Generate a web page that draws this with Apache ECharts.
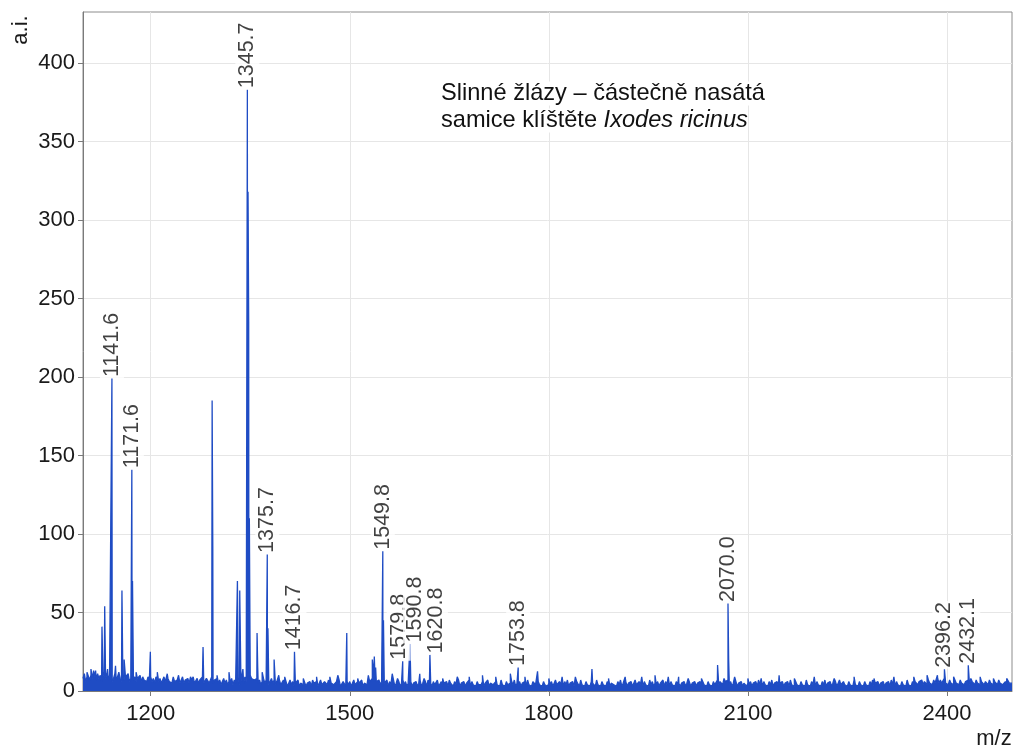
<!DOCTYPE html>
<html>
<head>
<meta charset="utf-8">
<script src="https://cdn.jsdelivr.net/npm/echarts@6/dist/echarts.min.js"></script>
<style>
  html, body { margin: 0; padding: 0; background: #fff; }
  #chart { width: 1019px; height: 751px; }
</style>
</head>
<body>
<div id="chart"></div>
<script>
// MALDI-TOF spectrum: m/z range and intensity range (a.i.)
const mzMin = 1098;
const mzMax = 2498;
const intensityMax = 432.5;

const xTicks = [1200, 1500, 1800, 2100, 2400];
const yTicks = [0, 50, 100, 150, 200, 250, 300, 350, 400];

// baseline noise, one reading every 2 m/z starting at 1098
const noiseStart = 1098;
const noiseStep = 2;
const noise = [
  8,11,6,9,12,7,10,8,13,9,7,11,8,10,6,12,9,8,11,7,10,9,6,8,11,7,9,12,8,6,10,7,9,8,11,6,8,10,7,9,6,8,7,10,6,9,7,8,6,9,
  7,9,6,8,5,9,7,6,8,5,7,9,6,5,8,6,7,5,9,6,5,7,8,5,6,9,5,7,6,8,5,6,7,9,5,6,8,5,7,6,9,5,6,8,7,5,6,9,5,7,
  6,8,5,7,4,6,8,5,7,4,6,5,8,4,7,5,6,8,4,6,7,5,9,6,8,7,10,8,9,7,6,8,5,7,4,6,8,5,7,5,4,6,8,5,7,4,6,5,7,4,
  5,7,4,6,3,5,7,4,6,3,5,4,7,3,5,6,4,7,3,5,4,6,3,7,5,4,6,3,5,7,4,3,6,5,4,7,3,5,6,4,3,6,5,7,3,4,6,5,3,6,
  4,6,3,5,7,4,3,6,5,4,7,3,5,6,4,3,6,5,8,10,9,6,5,7,4,6,3,5,4,7,3,6,4,5,7,3,5,4,6,3,5,7,4,6,3,5,4,6,3,5,
  4,6,3,5,7,3,5,4,6,3,7,4,5,3,6,4,5,7,3,4,6,3,5,4,6,3,7,5,4,3,6,4,5,7,3,5,4,6,3,5,4,7,3,6,4,5,3,6,4,5,
  4,6,3,5,4,7,3,5,6,4,3,6,4,5,3,7,4,5,3,6,4,3,5,6,4,7,3,5,4,6,3,5,4,6,3,7,4,5,3,6,5,4,3,6,4,5,3,6,4,5,
  3,5,4,6,3,5,7,4,3,6,4,5,3,6,4,7,3,5,4,6,3,4,6,5,3,7,4,5,3,6,4,5,3,6,5,4,3,7,4,5,3,6,4,5,3,6,4,3,5,6,
  4,5,3,6,4,7,3,5,4,6,3,5,4,6,3,5,7,4,3,6,4,5,3,6,4,5,3,7,4,6,3,5,4,6,3,5,4,7,3,6,4,5,3,6,4,5,3,6,4,5,
  3,5,4,6,3,5,4,7,3,5,4,6,3,5,4,6,3,7,4,5,3,6,4,5,3,6,4,5,7,4,6,5,4,8,6,5,7,4,6,3,5,4,6,3,5,4,6,3,5,4,
  3,5,4,6,3,5,4,6,3,7,4,5,3,6,4,5,3,6,4,7,3,5,4,6,3,5,4,6,3,5,4,6,3,7,4,5,3,6,4,5,3,6,4,5,3,7,4,5,3,6,
  4,5,3,6,4,5,3,6,4,7,3,5,4,6,3,5,4,6,3,5,7,4,3,6,4,5,3,6,4,5,3,7,4,5,3,6,4,5,3,6,4,5,3,6,4,7,3,5,4,6,
  3,5,4,6,3,5,4,6,3,7,4,5,3,6,4,5,3,6,4,5,3,7,4,5,3,6,4,6,5,4,6,5,7,4,6,5,4,7,5,6,4,7,5,6,8,5,7,5,6,8,
  5,6,4,7,5,6,4,8,5,6,4,7,5,6,4,6,5,7,4,8,6,5,4,7,5,6,4,6,5,4,6,5,4,7,5,6,4,6,5,4,7,5,6,4,5,6,4,7,5,6,
  5
];

// peak apexes: [m/z, intensity]
const peaks = [
  [1104, 12], [1110, 14], [1117, 13], [1126.6, 41], [1130.7, 54], [1135, 14],
  [1141.6, 199], [1147, 16], [1156.7, 64], [1160, 20], [1171.6, 141], [1172.6, 70],
  [1178, 12], [1199.5, 25], [1210, 12], [1225, 11], [1242, 10], [1260, 9],
  [1278.9, 28], [1292.6, 185], [1293.6, 92], [1300, 10], [1318, 12],
  [1330.7, 70], [1334.2, 64], [1339, 14],
  [1345.7, 383], [1346.7, 318], [1347.7, 235], [1348.7, 110],
  [1360.3, 37], [1361.3, 15], [1368, 12], [1375.7, 87], [1376.7, 40],
  [1386, 20], [1393, 10], [1402, 9], [1416.7, 25], [1430, 8], [1450, 9],
  [1470, 9], [1482, 10], [1495.5, 37], [1512, 8], [1528, 10],
  [1534, 20], [1537, 22], [1539, 15], [1549.8, 89], [1550.8, 45],
  [1564, 11], [1572, 8], [1579.8, 19], [1590.8, 30], [1605.5, 11], [1612, 8],
  [1620.8, 23], [1640, 8], [1662, 9], [1680, 9], [1700, 10], [1720, 9],
  [1742, 11], [1753.8, 15], [1764, 9], [1783, 12.5], [1800, 8], [1820, 9],
  [1840, 9], [1865, 14], [1890, 8], [1915, 9], [1940, 9], [1960, 10],
  [1980, 9], [1995.6, 9], [2010, 8], [2030, 8], [2054.3, 16.6],
  [2070.0, 55.7], [2071, 20], [2080, 9], [2100, 8], [2120, 8], [2147, 10],
  [2170, 8], [2200, 9], [2230, 8], [2260, 9], [2290, 8], [2320, 9],
  [2350, 9], [2370, 10], [2385.6, 10], [2396.2, 13.8], [2410, 9],
  [2432.1, 16.4], [2450, 9], [2470, 8], [2490, 8]
];

// peaks annotated with their m/z
const labeledMz = [1141.6, 1171.6, 1345.7, 1375.7, 1416.7, 1549.8, 1579.8,
  1590.8, 1620.8, 1753.8, 2070.0, 2396.2, 2432.1];

// sideways nudge (px, + = right) for crowded labels so they sit next to each other
const labelNudge = { '1579.8': -4, '1590.8': 5, '1620.8': 6 };

const fontFamily = '"Liberation Sans", Arial, sans-serif';
const lineColor = '#1f4cc4';

const spectrum = noise.map((v, i) => [noiseStart + i * noiseStep, v])
  .concat(peaks)
  .sort((a, b) => a[0] - b[0]);

const labelPoints = peaks.filter(p => labeledMz.indexOf(p[0]) !== -1);

const chart = echarts.init(document.getElementById('chart'), null, { renderer: 'canvas' });

chart.setOption({
  animation: false,
  backgroundColor: '#fff',
  textStyle: { fontFamily: fontFamily },
  grid: {
    left: 83, right: 7, top: 12, bottom: 60,
    show: true, borderColor: '#8c8c8c', borderWidth: 1,
    backgroundColor: 'transparent'
  },
  xAxis: {
    type: 'value',
    min: mzMin, max: mzMax,
    axisLine: { show: true, onZero: false, lineStyle: { color: '#7a7a7a', width: 1 } },
    axisTick: { show: true, length: 5, customValues: xTicks, lineStyle: { color: '#7a7a7a' } },
    axisLabel: { customValues: xTicks, fontSize: 22, color: '#1a1a1a', margin: 12,
      fontFamily: fontFamily, formatter: v => String(v) },
    splitLine: { show: true, lineStyle: { color: '#e6e6e6', width: 1 } }
  },
  yAxis: {
    type: 'value',
    min: 0, max: intensityMax,
    axisLine: { show: true, lineStyle: { color: '#7a7a7a', width: 1 } },
    axisTick: { show: true, length: 5, customValues: yTicks, lineStyle: { color: '#7a7a7a' } },
    axisLabel: { customValues: yTicks, fontSize: 22, color: '#1a1a1a', margin: 8,
      fontFamily: fontFamily, formatter: v => String(v) },
    splitLine: { show: true, lineStyle: { color: '#e6e6e6', width: 1 } }
  },
  graphic: [
    {
      type: 'text', x: 21, y: 30, rotation: Math.PI / 2,
      style: { text: 'a.i.', fontSize: 22, fontFamily: fontFamily, fill: '#1a1a1a',
        textAlign: 'center', textVerticalAlign: 'middle' }
    },
    {
      type: 'text', x: 994, y: 739,
      style: { text: 'm/z', fontSize: 22, fontFamily: fontFamily, fill: '#1a1a1a',
        textAlign: 'center', textVerticalAlign: 'middle' }
    },
    {
      type: 'text', x: 441, y: 80, z: 10,
      style: {
        text: '{n|Slinné žlázy – částečně nasátá}\n{n|samice klíštěte }{i|Ixodes ricinus}',
        fontFamily: fontFamily, fill: '#111',
        textAlign: 'left', textVerticalAlign: 'top',
        rich: {
          n: { fontSize: 23.6, lineHeight: 27, fontFamily: fontFamily, fill: '#111', backgroundColor: '#fff' },
          i: { fontSize: 23.6, lineHeight: 27, fontStyle: 'italic', fontFamily: fontFamily, fill: '#111', backgroundColor: '#fff' }
        }
      }
    }
  ],
  series: [
    {
      type: 'line',
      data: spectrum,
      showSymbol: false,
      symbol: 'none',
      silent: true,
      sampling: false,
      lineStyle: { color: lineColor, width: 1.3 },
      areaStyle: { color: lineColor, opacity: 1 },
      z: 2
    },
    {
      type: 'scatter',
      data: labelPoints,
      symbolSize: 1,
      itemStyle: { color: 'transparent' },
      silent: true,
      z: 5,
      // labels are rotated 90°, so the layout's dy shifts them sideways on screen
      labelLayout: p => ({
        dy: labelNudge[labelPoints[p.dataIndex][0].toFixed(1)] || 0,
        hideOverlap: false
      }),
      label: {
        show: true,
        position: 'top',
        distance: 0,
        rotate: 90,
        align: 'left',
        verticalAlign: 'middle',
        fontSize: 21.5,
        fontFamily: fontFamily,
        color: '#111',
        backgroundColor: '#fff',
        padding: [1, 1],
        formatter: p => p.value[0].toFixed(1)
      }
    }
  ]
});
</script>
</body>
</html>
